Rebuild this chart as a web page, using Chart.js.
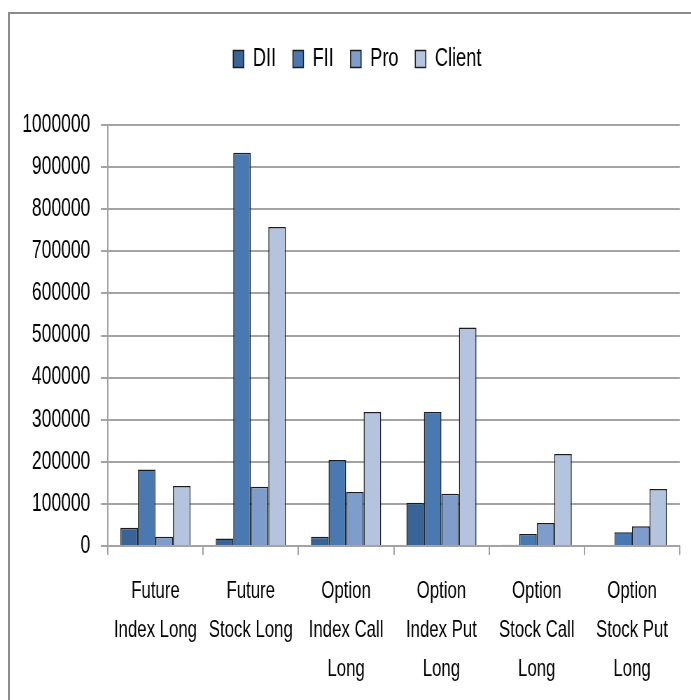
<!DOCTYPE html>
<html>
<head>
<meta charset="utf-8">
<script src="https://cdn.jsdelivr.net/npm/chart.js@4.4.1/dist/chart.umd.min.js"></script>
<style>
    body { margin: 0; background: #fff; overflow: hidden; }
    #frame { position: absolute; left: 8px; top: 12px; width: 900px; height: 900px; border: 2px solid #8c8c8c; }
    /* the source picture is squeezed horizontally, so draw wide and squeeze it back */
    #wrap { position: absolute; left: 0; top: 0; width: 987px; height: 700px; transform: scaleX(0.7); transform-origin: 0 0; }
</style>
</head>
<body>
<div id="frame"></div>
<div id="wrap"><canvas id="oiChart" width="987" height="700"></canvas></div>
<script>
// Chart data
const categories = [
    ['Future', 'Index Long'],
    ['Future', 'Stock Long'],
    ['Option', 'Index Call', 'Long'],
    ['Option', 'Index Put', 'Long'],
    ['Option', 'Stock Call', 'Long'],
    ['Option', 'Stock Put', 'Long']
];
const diiValues = [43500, 18000, 22000, 103000, 3000, 2500];
const fiiValues = [182000, 934000, 204000, 318000, 28500, 32500];
const proValues = [22000, 141000, 128000, 124000, 54500, 47000];
const clientValues = [142500, 758000, 318000, 519000, 218500, 135500];
const yMax = 1000000;
const yStep = 100000;

const fontFamily = "'Liberation Sans', Arial, sans-serif";
const gridColor = '#a3a3a3';

function makeSeries(label, data, color) {
    return {
        label: label,
        data: data,
        backgroundColor: color,
        borderColor: '#1c1c1c',
        borderWidth: 1.5,
        barPercentage: 1,
        categoryPercentage: 0.735
    };
}

// Leave an empty band under the legend and centre it over the plot, like the original
const legendSpacer = {
    id: 'legendSpacer',
    beforeLayout(chart) {
        const legend = chart.legend;
        if (!legend || legend._spaced) return;
        const origFit = legend.fit;
        legend.fit = function() {
            origFit.call(this);
            this.height += 43;
        };
        legend._spaced = true;
    },
    afterLayout(chart) {
        const legend = chart.legend;
        if (!legend) return;
        legend.left += 25;
        legend.right += 25;
    }
};

const ctx = document.getElementById('oiChart').getContext('2d');
const chart = new Chart(ctx, {
    type: 'bar',
    data: {
        labels: categories,
        datasets: [
            makeSeries('DII', diiValues, '#3b6496'),
            makeSeries('FII', fiiValues, '#4a79b2'),
            makeSeries('Pro', proValues, '#7f9dca'),
            makeSeries('Client', clientValues, '#b4c3de')
        ]
    },
    plugins: [legendSpacer],
    options: {
        responsive: false,
        animation: false,
        devicePixelRatio: 1,
        layout: {
            padding: { top: 22, right: 16, bottom: 0, left: 0 }
        },
        scales: {
            x: {
                offset: true,
                grid: {
                    offset: true,
                    drawOnChartArea: false,
                    drawTicks: true,
                    tickLength: 9,
                    color: gridColor,
                    lineWidth: 2
                },
                border: { display: true, color: gridColor, width: 2 },
                ticks: {
                    color: '#000',
                    maxRotation: 0,
                    autoSkip: false,
                    padding: 17,
                    font: { family: fontFamily, size: 24, lineHeight: 1.62 }
                },
                afterFit: function(scale) { scale.height = 154; }
            },
            y: {
                min: 0,
                max: yMax,
                ticks: {
                    stepSize: yStep,
                    color: '#000',
                    padding: 15,
                    font: { family: fontFamily, size: 25 },
                    callback: function(value) { return String(value); }
                },
                grid: {
                    color: gridColor,
                    lineWidth: 2,
                    tickLength: 10
                },
                border: { display: true, color: gridColor, width: 2 },
                afterFit: function(scale) { scale.width = 154; }
            }
        },
        plugins: {
            legend: {
                display: true,
                position: 'top',
                labels: {
                    color: '#000',
                    boxWidth: 15,
                    boxHeight: 17,
                    padding: 24,
                    font: { family: fontFamily, size: 26 }
                }
            },
            tooltip: { enabled: false }
        }
    }
});
</script>
</body>
</html>
